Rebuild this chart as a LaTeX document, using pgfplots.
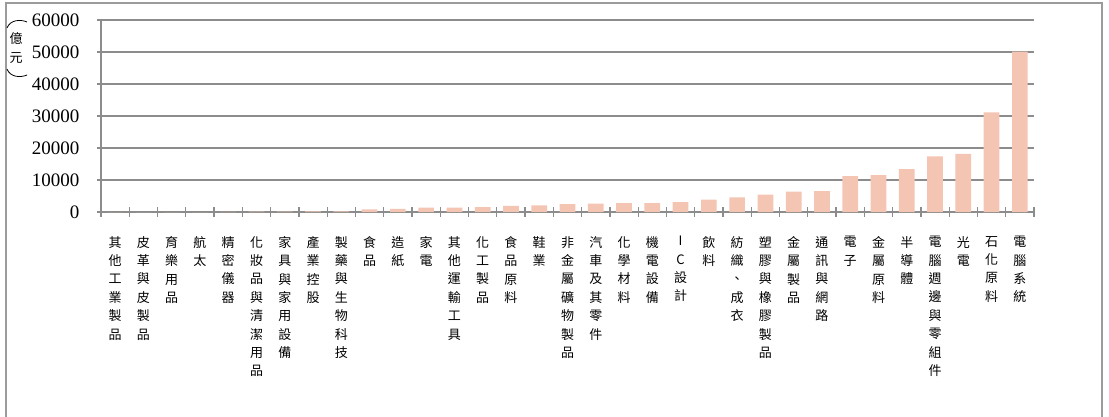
\documentclass[border=0pt]{standalone}
\usepackage{fontspec}
\setmainfont{Liberation Serif}
\newfontfamily\cjk{Noto Sans CJK TC}
\usepackage{pgfplots}
\pgfplotsset{compat=1.18}
\definecolor{gridgray}{RGB}{140,140,140}
\definecolor{framegray}{RGB}{155,155,155}
\definecolor{barfill}{RGB}{245,197,179}
\begin{document}
\begin{tikzpicture}[x=1pt,y=1pt]
\path[use as bounding box] (0,0) rectangle (1109,416);
\draw[framegray, line width=2pt] (6,-2) -- (6,413) -- (1102,413) -- (1102,-2);
\begin{axis}[
  at={(101pt,204pt)}, anchor=south west,
  scale only axis, width=933pt, height=192pt,
  xmin=0, xmax=33, ymin=0, ymax=60000,
  axis lines*=left,
  axis line style={gridgray, line width=1.3pt},
  ymajorgrids, major grid style={gridgray, line width=1.3pt},
  ytick={0,10000,...,60000},
  scaled y ticks=false,
  /pgf/number format/assume math mode=true,
  yticklabel={\pgfmathprintnumber[fixed,1000 sep={}]{\tick}},
  yticklabel style={font=\fontsize{19}{20}\selectfont, xshift=-14pt},
  tick align=center,
  major tick length=8pt,
  minor tick length=10pt,
  tick style={gridgray, line width=1.3pt},
  major x tick style={draw=none},
  minor xtick={0,1,...,33},
  xtick=data,
  xticklabel style={font=\cjk\fontsize{13}{18.4}\selectfont, align=center, anchor=north, yshift=-20pt, inner sep=0pt},
  xticklabels={
    {其\\他\\工\\業\\製\\品},
    {皮\\革\\與\\皮\\製\\品},
    {育\\樂\\用\\品},
    {航\\太},
    {精\\密\\儀\\器},
    {化\\妝\\品\\與\\清\\潔\\用\\品},
    {家\\具\\與\\家\\用\\設\\備},
    {產\\業\\控\\股},
    {製\\藥\\與\\生\\物\\科\\技},
    {食\\品},
    {造\\紙},
    {家\\電},
    {其\\他\\運\\輸\\工\\具},
    {化\\工\\製\\品},
    {食\\品\\原\\料},
    {鞋\\業},
    {非\\金\\屬\\礦\\物\\製\\品},
    {汽\\車\\及\\其\\零\\件},
    {化\\學\\材\\料},
    {機\\電\\設\\備},
    {I\\C\\設\\計},
    {飲\\料},
    {紡\\織\\、\\成\\衣},
    {塑\\膠\\與\\橡\\膠\\製\\品},
    {金\\屬\\製\\品},
    {通\\訊\\與\\網\\路},
    {電\\子},
    {金\\屬\\原\\料},
    {半\\導\\體},
    {電\\腦\\週\\邊\\與\\零\\組\\件},
    {光\\電},
    {石\\化\\原\\料},
    {電\\腦\\系\\統}
  },
]
\addplot[ybar, bar width=15.7pt, fill=barfill, draw=none] coordinates {
(0.5,0) (1.5,0) (2.5,0) (3.5,0) (4.5,20) (5.5,80) (6.5,120) (7.5,160)
(8.5,220) (9.5,850) (10.5,950) (11.5,1400) (12.5,1400) (13.5,1500) (14.5,1900)
(15.5,2100) (16.5,2450) (17.5,2650) (18.5,2750) (19.5,2750) (20.5,3050)
(21.5,3900) (22.5,4550) (23.5,5450) (24.5,6400) (25.5,6500) (26.5,11200)
(27.5,11500) (28.5,13400) (29.5,17350) (30.5,18200) (31.5,31100) (32.5,50100)
};
\end{axis}
\draw[line width=0.8pt] (7,388) .. controls (10,396) and (20,397) .. (27,394);
\node[font=\cjk\fontsize{13}{19}\selectfont, align=center, inner sep=0pt] at (16,368) {億\\元};
\draw[line width=0.8pt] (7,347) .. controls (10,339) and (20,338) .. (27,341);
\end{tikzpicture}
\end{document}
